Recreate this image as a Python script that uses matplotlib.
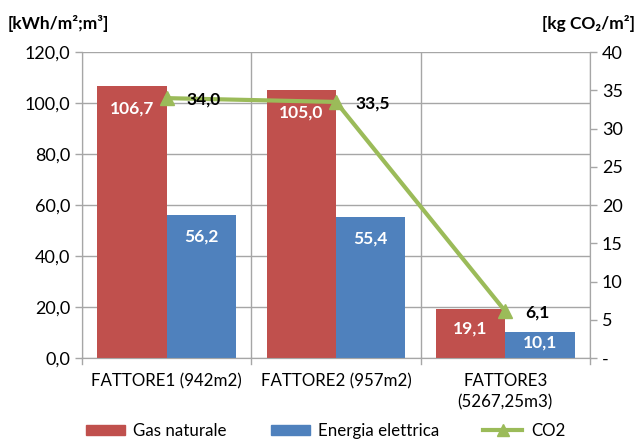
import numpy as np
import matplotlib.pyplot as plt
from matplotlib.lines import Line2D
from matplotlib.patches import Patch

plt.rcParams['font.family'] = ['Lato', 'DejaVu Sans']

categories = ['FATTORE1 (942m2)', 'FATTORE2 (957m2)', 'FATTORE3\n(5267,25m3)']
gas = [106.7, 105.0, 19.1]
elettrica = [56.2, 55.4, 10.1]
co2 = [34.0, 33.5, 6.1]

red = '#C0504D'
blue = '#4F81BD'
green = '#9BBB59'
grid_c = '#A6A6A6'

fig = plt.figure(figsize=(6.38, 4.43), dpi=100)
ax = fig.add_axes([0.1285, 0.192, 0.7963, 0.690])
ax2 = ax.twinx()

x = np.arange(len(categories))
w = 0.41
ax.bar(x - w / 2, gas, w, color=red, zorder=3)
ax.bar(x + w / 2, elettrica, w, color=blue, zorder=3)

# etichette dentro le barre
for xs, vals in ((x - w / 2, gas), (x + w / 2, elettrica)):
    for xi, v in zip(xs, vals):
        ax.text(xi, max(v - 8.6, v * 0.6), f'{v:.1f}'.replace('.', ','), ha='center', va='center',
                color='white', fontweight='bold', fontsize=12.5, zorder=4)

ax.set_xlim(-0.5, 2.5)
ax.set_ylim(0, 120)
ax.set_yticks(np.arange(0, 121, 20))
ax.set_yticklabels([f'{v:.1f}'.replace('.', ',') for v in np.arange(0, 121, 20)], fontsize=13)
ax.set_xticks(x)
ax.set_xticklabels(categories, fontsize=12.2, linespacing=1.4)
ax.tick_params(axis='x', length=0, pad=11)
ax.set_xticks(np.arange(-0.5, 3, 0.5), minor=True)
ax.tick_params(axis='x', which='minor', length=0)
ax.grid(True, axis='y', color=grid_c, lw=1, zorder=0)
ax.grid(True, axis='x', which='minor', color=grid_c, lw=1, zorder=0)
ax.tick_params(axis='y', length=5, color=grid_c, width=1)
# tacche sotto l'asse x ai confini delle categorie
for b in np.arange(-0.5, 3, 1.0):
    ax.plot([b, b], [0, -2.5], color=grid_c, lw=1, clip_on=False, zorder=1)

for a in (ax, ax2):
    for s in ['left', 'right', 'bottom']:
        a.spines[s].set_color(grid_c)
    a.spines['top'].set_visible(False)

ax2.plot(x, co2, color=green, lw=3, marker='^', ms=10, zorder=5)
for xi, v in zip(x, co2):
    ax2.annotate(f'{v:.1f}'.replace('.', ','), (xi, v), xytext=(14, -1), textcoords='offset points',
                 ha='left', va='center', fontweight='bold', fontsize=12.5, color='black', zorder=6)
ax2.set_ylim(0, 40)
ax2.set_yticks(np.arange(0, 41, 5))
ax2.set_yticklabels(['-'] + [str(v) for v in range(5, 41, 5)], fontsize=13)
ax2.tick_params(axis='y', length=5, color=grid_c, width=1)

fig.text(0.012, 0.946, '[kWh/m²;m³]', fontsize=12.5, fontweight='bold', ha='left', va='center')
fig.text(0.995, 0.946, '[kg CO₂/m²]', fontsize=12.5, fontweight='bold', ha='right', va='center')

handles = [Patch(color=red), Patch(color=blue),
           Line2D([0], [0], color=green, lw=3, marker='^', ms=9)]
fig.legend(handles, ['Gas naturale', 'Energia elettrica', 'CO2'], loc='center',
           bbox_to_anchor=(0.51, 0.027), ncol=3, frameon=False, fontsize=12.2,
           handlelength=2.3, handleheight=0.6, columnspacing=2.6, handletextpad=0.5,
           borderpad=0.1)

fig.savefig('out.png', dpi=100)
